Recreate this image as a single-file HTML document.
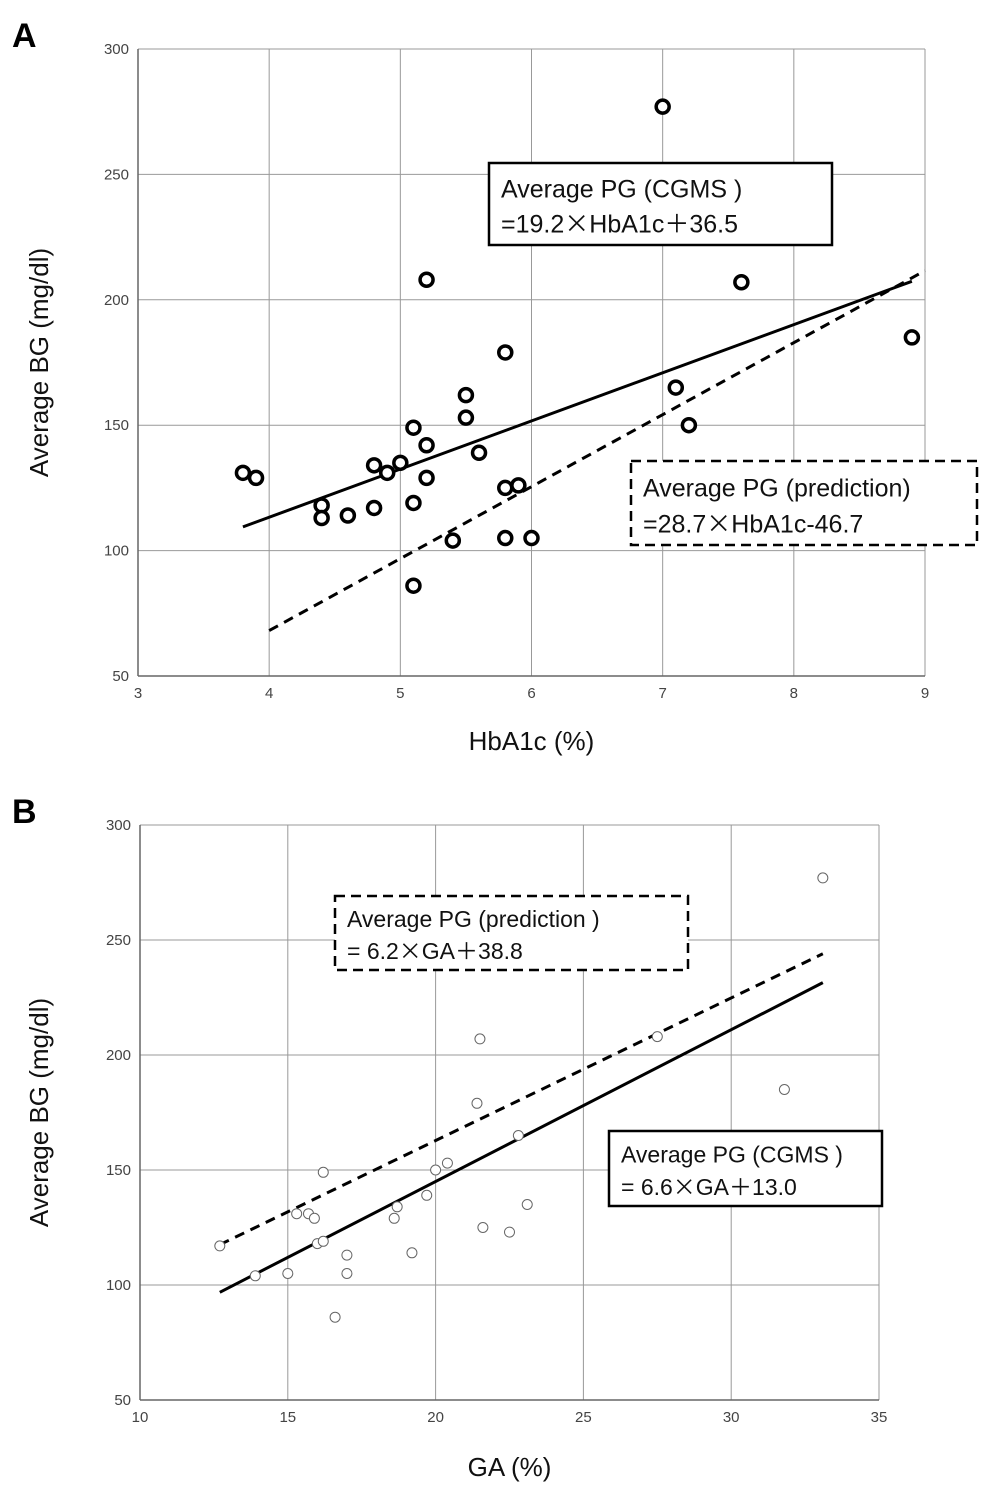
<!DOCTYPE html>
<html><head><meta charset="utf-8"><style>
html,body{margin:0;padding:0;background:#fff;}
svg{display:block;font-family:"Liberation Sans","Noto Sans CJK JP",sans-serif;}
.cjk{font-family:"Noto Sans CJK JP",sans-serif;}
</style></head><body>
<svg id="c" width="991" height="1498" viewBox="0 0 991 1498"></svg>
<script>
const aX=[3.8,3.9,4.4,4.4,4.6,4.8,4.8,4.9,5.0,5.1,5.1,5.1,5.2,5.2,5.2,5.4,5.5,5.5,5.6,5.8,5.8,5.9,5.8,6.0,7.0,7.1,7.2,7.6,8.9];
const aY=[131,129,118,113,114,134,117,131,135,149,119,86,142,129,208,104,162,153,139,179,125,126,105,105,277,165,150,207,185];
const bX=[12.7,13.9,15.0,15.3,15.7,15.9,16.0,16.2,16.2,16.6,17.0,17.0,18.6,18.7,19.2,19.7,20.0,20.4,21.4,21.5,21.6,22.5,22.8,23.1,27.5,31.8,33.1];
const bY=[117,104,105,131,131,129,118,119,149,86,113,105,129,134,114,139,150,153,179,207,125,123,165,135,208,185,277];
const aXTicks=[3,4,5,6,7,8,9];
const bXTicks=[10,15,20,25,30,35];
const yTicks=[50,100,150,200,250,300];
const aSolid=[19.2,36.5,3.8,8.9];
const aDash=[28.7,-46.7,4,9];
const bSolid=[6.6,13.0,12.7,33.1];
const bDash=[6.2,38.8,12.7,33.1];
const NS='http://www.w3.org/2000/svg';
const svg=document.getElementById('c');
function el(t,a,txt,par){const e=document.createElementNS(NS,t);for(const k in a)e.setAttribute(k,a[k]);if(txt!==undefined)e.textContent=txt;(par||svg).appendChild(e);return e;}
function panel(p){
  const sx=v=>p.x0+(v-p.xmin)/(p.xmax-p.xmin)*(p.x1-p.x0);
  const sy=v=>p.y1-(v-50)/250*(p.y1-p.y0);
  let e;
  p.xt.forEach(t=>{e=el('line',{x1:sx(t),x2:sx(t),y1:p.y0,y2:p.y1,stroke:'#999','stroke-width':1});
    
    e=el('text',{x:sx(t),y:p.y1+22,'text-anchor':'middle','font-size':15,fill:'#444'},t);
    });
  yTicks.forEach(t=>{e=el('line',{x1:p.x0,x2:p.x1,y1:sy(t),y2:sy(t),stroke:'#999','stroke-width':1});
    
    e=el('text',{x:p.x0-9,y:sy(t)+5,'text-anchor':'end','font-size':15,fill:'#444'},t);
    });
  e=el('line',{x1:p.x0,x2:p.x0,y1:p.y0,y2:p.y1,stroke:'#666','stroke-width':1.5});
  e=el('line',{x1:p.x0,x2:p.x1,y1:p.y1,y2:p.y1,stroke:'#666','stroke-width':1.5});
  [[p.solid,''],[p.dash,'10,7']].forEach(([L,d],i)=>{
    e=el('line',{x1:sx(L[2]),y1:sy(L[0]*L[2]+L[1]),x2:sx(L[3]),y2:sy(L[0]*L[3]+L[1]),stroke:'#000','stroke-width':3,'stroke-dasharray':d});
    });
  p.px.forEach((v,i)=>{e=el('circle',{cx:sx(v),cy:sy(p.py[i]),r:p.r,fill:'#fff',stroke:p.pc,'stroke-width':p.sw});
    });
  e=el('text',{x:(p.x0+p.x1)/2,y:p.y1+p.tOff,'text-anchor':'middle','font-size':26,fill:'#111'},p.xTitle);
  
  const cy=(p.y0+p.y1)/2;
  e=el('text',{x:48,y:cy,'text-anchor':'middle','font-size':26,fill:'#111',transform:`rotate(-90 48 ${cy})`},'Average BG (mg/dl)');
  
  e=el('text',{x:12,y:p.y0-2,'font-size':34,'font-weight':'bold'},p.label);
  
  p.boxes.forEach(b=>{
    e=el('rect',{x:b[0],y:b[1],width:b[2],height:b[3],fill:'#fff',stroke:'#000','stroke-width':2.5,'stroke-dasharray':b[4]?'10,6':''});
    
    e=el('text',{x:b[0]+12,y:b[1]+b[3]*0.42,'font-size':b[7],fill:'#111'},b[5]);
    
    e=el('text',{x:b[0]+12,y:b[1]+b[3]*0.85,'font-size':b[7],fill:'#111'});
    
    b[6].forEach((s,k)=>{const t=el('tspan',k%2?{class:'cjk'}:{},s,e);});
  });
}
panel({x0:138,x1:925,y0:49,y1:676,xmin:3,xmax:9,xt:aXTicks,px:aX,py:aY,solid:aSolid,dash:aDash,r:6.5,sw:3.5,pc:'#000',
  xTitle:'HbA1c (%)',tOff:74,label:'A',
  boxes:[[489,163,343,82,0,'Average PG (CGMS )',['=19.2','×','HbA1c','＋','36.5'],25],[631,461,346,84,1,'Average PG (prediction)',['=28.7','×','HbA1c-46.7'],25]]});
panel({x0:140,x1:879,y0:825,y1:1400,xmin:10,xmax:35,xt:bXTicks,px:bX,py:bY,r:5,sw:1,pc:'#666',
  solid:bSolid,dash:bDash,xTitle:'GA (%)',tOff:76,label:'B',
  boxes:[[335,896,353,74,1,'Average PG (prediction )',['= 6.2','×','GA','＋','38.8'],23],[609,1131,273,75,0,'Average PG (CGMS )',['= 6.6','×','GA','＋','13.0'],23]]});
</script>
</body></html>
